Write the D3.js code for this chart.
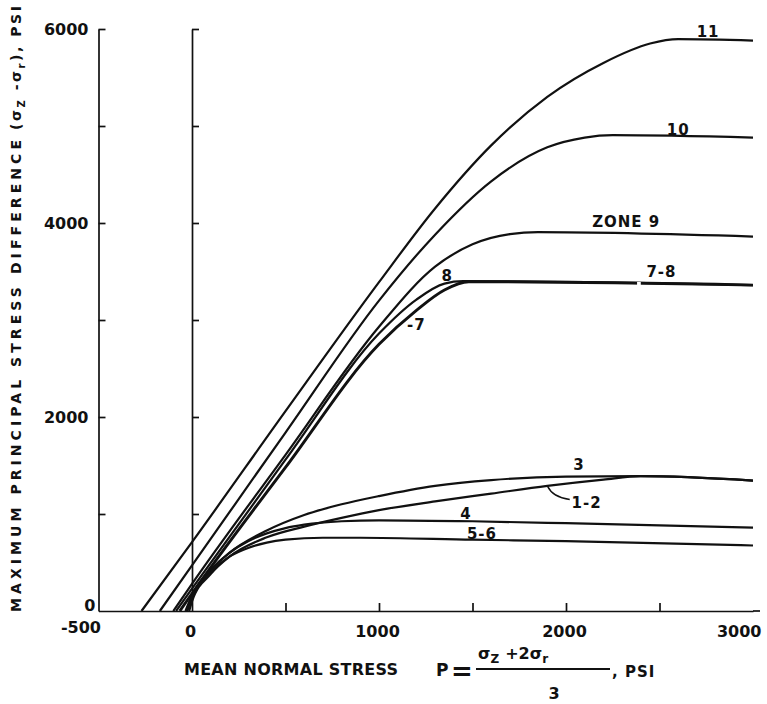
<!DOCTYPE html>
<html>
<head>
<meta charset="UTF-8">
<title>Stress difference vs mean normal stress</title>
<script src="https://d3js.org/d3.v7.min.js"></script>
<style>
  body { margin: 0; background: #fff; }
  svg text { font-family: "DejaVu Sans", sans-serif; font-weight: bold; fill: #111; }
  .curve { fill: none; stroke: #111; stroke-width: 2.2; stroke-linejoin: round; }
  .axis path, .axis line { stroke: #111; stroke-width: 1.7; }
</style>
</head>
<body>
<div id="chart"></div>
<script>
// tick values
const xLabels = [-500, 0, 1000, 2000, 3000];
const xMinor = [500, 1000, 1500, 2000, 2500];
const yLabels = [0, 2000, 4000, 6000];
const yMinor = [1000, 2000, 3000, 4000, 5000, 6000];

// [P, sigma_z - sigma_r] in psi for each zone
const zone11 = [[-270,0],[0,710],[500,2060],[1000,3390],[1300,4150],[1600,4800],[1900,5300],[2200,5650],[2450,5850],[2600,5895],[3000,5880]];
const zone10 = [[-172,0],[0,470],[500,1840],[1000,3200],[1300,3880],[1600,4430],[1900,4780],[2100,4880],[2250,4905],[3000,4880]];
const zone9  = [[-100,0],[0,280],[500,1610],[1000,2930],[1300,3550],[1500,3780],[1700,3885],[1850,3905],[3000,3860]];
const zone8  = [[-85,0],[0,230],[500,1560],[1000,2860],[1200,3210],[1350,3375],[1450,3400],[3000,3360]];
const zone7  = [[-65,0],[0,180],[500,1480],[1000,2750],[1200,3100],[1350,3310],[1480,3395],[3000,3360]];
const zone3  = [[-25,0],[0,140],[100,420],[200,600],[400,830],[600,990],[800,1100],[1000,1185],[1300,1290],[1600,1350],[2000,1385],[2400,1390],[3000,1345]];
const zone12 = [[-15,0],[0,100],[100,380],[200,560],[400,760],[600,870],[800,960],[1000,1040],[1300,1130],[1600,1210],[1900,1290],[2200,1355],[2400,1390],[3000,1345]];
const zone4  = [[-35,0],[0,160],[100,420],[200,600],[300,720],[400,800],[500,855],[600,890],[800,925],[1000,935],[1500,925],[2000,905],[3000,860]];
const zone56 = [[-30,0],[0,150],[100,400],[200,560],[300,650],[400,705],[500,735],[700,755],[900,755],[1500,735],[2000,720],[3000,675]];

const curves = [zone11, zone10, zone9, zone8, zone7, zone3, zone12, zone4, zone56];

// curve labels: text, P, stress, anchor
const labels = [
  ["11", 2760, 5920, "middle"],
  ["10", 2600, 4905, "middle"],
  ["ZONE 9", 2140, 3960, "start"],
  ["7-8", 2430, 3445, "start"],
  ["8", 1365, 3400, "middle"],
  ["-7", 1150, 2900, "start"],
  ["3", 2070, 1455, "middle"],
  ["1-2", 2030, 1060, "start"],
  ["4", 1465, 945, "middle"],
  ["5-6", 1470, 738, "start"]
];

const width = 767, height = 704;
const svg = d3.select("#chart").append("svg")
  .attr("width", width).attr("height", height);

const x = d3.scaleLinear().domain([-500, 3000]).range([98.5, 753]);
const y = d3.scaleLinear().domain([0, 6000]).range([611, 29]);
const fmt = d => String(d); // plain hyphen for -500

// x axis: ticks up, labels below
svg.append("g").attr("class", "axis")
  .attr("transform", `translate(0,${y(0)})`)
  .call(d3.axisTop(x).tickValues(xMinor).tickSizeInner(8).tickSizeOuter(0).tickFormat(""));
svg.append("line").attr("x1", x(3000)).attr("x2", x(3000) + 7)
  .attr("y1", y(0)).attr("y2", y(0)).attr("stroke", "#111").attr("stroke-width", 1.7);
const xl = svg.append("g")
  .attr("transform", `translate(0,${y(0)})`)
  .call(d3.axisBottom(x).tickValues(xLabels).tickSize(0).tickPadding(15).tickFormat(fmt));
xl.select(".domain").remove();
xl.selectAll("text").style("font-size", "16px")
  .attr("text-anchor", d => d === -500 ? "end" : (d === 3000 ? "end" : "middle"))
  .attr("dx", d => d === -500 ? 2 : (d === 3000 ? 8 : -2))
  .attr("dy", d => d === -500 ? "0.45em" : "0.71em");

// left axis and the P = 0 line, ticks to the right
[x(-500), x(0)].forEach(px => {
  svg.append("g").attr("class", "axis")
    .attr("transform", `translate(${px},0)`)
    .call(d3.axisRight(y).tickValues(yMinor).tickSizeInner(7).tickSizeOuter(0).tickFormat(""));
});
const yl = svg.append("g")
  .attr("transform", `translate(${x(-500)},0)`)
  .call(d3.axisLeft(y).tickValues(yLabels).tickSize(0).tickPadding(10).tickFormat(fmt));
yl.select(".domain").remove();
yl.selectAll("text").style("font-size", "16px")
  .attr("x", d => d === 0 ? -3 : -10)
  .attr("dy", d => d === 0 ? "-0.05em" : "0.35em");

// curves
const line = d3.line().x(d => x(d[0])).y(d => y(d[1])).curve(d3.curveMonotoneX);
svg.append("g").selectAll("path").data(curves).join("path")
  .attr("class", "curve")
  .attr("d", line)
  .style("stroke-width", (d, i) => i === 4 ? 2.9 : 2.2);

// gap in the 7-8 plateau before its label
svg.append("line")
  .attr("x1", x(2380)).attr("x2", x(2400))
  .attr("y1", y(3372)).attr("y2", y(3372))
  .attr("stroke", "#fff").attr("stroke-width", 4);

// curve labels
svg.append("g").selectAll("text").data(labels).join("text")
  .attr("x", d => x(d[1])).attr("y", d => y(d[2]))
  .attr("text-anchor", d => d[3])
  .style("font-size", "15px")
  .style("letter-spacing", "1px")
  .text(d => d[0]);

// leader from curve 1-2 to its label
svg.append("path")
  .attr("d", `M${x(1900)},${y(1290)} Q${x(1930)},${y(1170)} ${x(2020)},${y(1150)}`)
  .attr("fill", "none").attr("stroke", "#111").attr("stroke-width", 1.4);

// y axis title
const yt = svg.append("g").attr("transform", "translate(21,612) rotate(-90)");
yt.append("text").attr("x", 0).attr("y", 0)
  .attr("textLength", 472).attr("lengthAdjust", "spacing")
  .style("font-size", "14px")
  .text("MAXIMUM  PRINCIPAL  STRESS  DIFFERENCE");
const yt2 = yt.append("text").attr("x", 482).attr("y", 0)
  .attr("textLength", 124).attr("lengthAdjust", "spacing")
  .style("font-size", "14px");
yt2.append("tspan").text("(σ");
yt2.append("tspan").attr("dy", 4).style("font-size", "10px").text("Z");
yt2.append("tspan").attr("dy", -4).text(" -σ");
yt2.append("tspan").attr("dy", 4).style("font-size", "10px").text("r");
yt2.append("tspan").attr("dy", -4).text("), PSI");

// x axis title
const xt = svg.append("g");
xt.append("text").attr("x", 184).attr("y", 675)
  .attr("textLength", 214).attr("lengthAdjust", "spacing")
  .style("font-size", "16px")
  .text("MEAN NORMAL STRESS");
xt.append("text").attr("x", 436).attr("y", 676).style("font-size", "17px").text("P");
xt.append("text").attr("x", 451).attr("y", 680).style("font-size", "26px").text("=");
const num = xt.append("text").attr("x", 478).attr("y", 659).style("font-size", "16px");
num.append("tspan").text("σ");
num.append("tspan").attr("dy", 4).style("font-size", "12px").text("Z");
num.append("tspan").attr("dy", -4).attr("dx", 6).text("+2σ");
num.append("tspan").attr("dy", 4).style("font-size", "12px").text("r");
xt.append("line").attr("x1", 476).attr("x2", 610).attr("y1", 669).attr("y2", 669)
  .attr("stroke", "#111").attr("stroke-width", 2.2);
xt.append("text").attr("x", 554).attr("y", 699).attr("text-anchor", "middle")
  .style("font-size", "16px").text("3");
xt.append("text").attr("x", 612).attr("y", 677)
  .style("font-size", "15px").style("letter-spacing", "1px").text(", PSI");
</script>
</body>
</html>
